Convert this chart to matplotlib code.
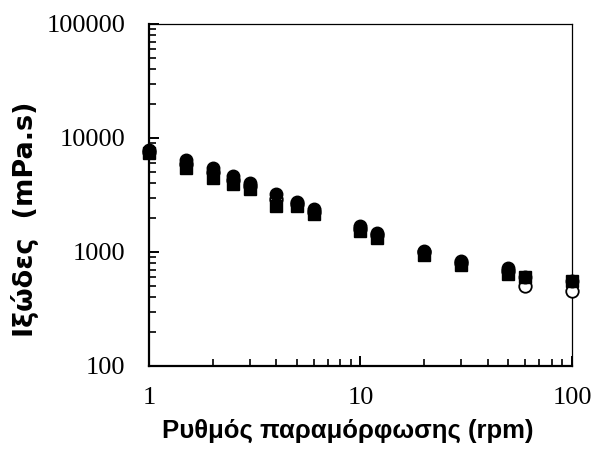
import numpy as np
import matplotlib.pyplot as plt

# shear rate (rpm) and viscosity (mPa.s)
rpm = [1, 1.5, 2, 2.5, 3, 4, 5, 6, 10, 12, 20, 30, 50, 60, 100]
visc_filled_circle = [7800, 6400, 5450, 4650, 4050, 3250, 2750, 2400, 1700, 1460, 1030, 830, 720, 600, 560]
visc_square = [7400, 5400, 4500, 3950, 3550, 2550, 2550, 2150, 1520, 1320, 950, 775, 640, 600, 560]
visc_open_circle = [7600, 5900, 5000, 4300, 3800, 2900, 2650, 2250, 1600, 1400, 990, 800, 680, 505, 455]

fig = plt.figure(figsize=(5.94, 4.5), dpi=100)
ax = fig.add_axes([0.2508, 0.1867, 0.7122, 0.76])

ax.plot(rpm, visc_open_circle, 'o', mfc='white', mec='black', mew=1.3, ms=9, clip_on=False, zorder=3)
ax.plot(rpm, visc_square, 's', color='black', ms=8.5, clip_on=False, zorder=4)
ax.plot(rpm, visc_filled_circle, 'o', color='black', ms=9, clip_on=False, zorder=5)

ax.set_xscale('log')
ax.set_yscale('log')
ax.set_xlim(1, 100)
ax.set_ylim(100, 100000)
ax.set_xticks([1, 10, 100])
ax.set_xticklabels(['1', '10', '100'])
ax.set_yticks([100, 1000, 10000, 100000])
ax.set_yticklabels(['100', '1000', '10000', '100000'])

for s in ['left', 'bottom']:
    ax.spines[s].set_linewidth(1.6)
for s in ['top', 'right']:
    ax.spines[s].set_linewidth(0.9)

ax.tick_params(which='major', direction='in', length=7, width=1.4, top=False, right=False,
               labelsize=19)
ax.tick_params(which='minor', direction='in', length=5, width=1.2, top=False, right=False)
ax.tick_params(axis='y', which='major', pad=17)
ax.tick_params(axis='x', which='major', pad=15)
for lab in ax.get_xticklabels() + ax.get_yticklabels():
    lab.set_fontfamily('Liberation Serif')

ax.set_xlabel('Ρυθμός παραμόρφωσης (rpm)', fontsize=18.5, fontweight='bold',
              fontfamily='Liberation Sans')
ax.xaxis.set_label_coords(0.469, -0.155)
ax.set_ylabel('Ιξώδες  (mPa.s)', fontsize=19.5, fontweight='bold',
              fontfamily='DejaVu Sans')
ax.yaxis.set_label_coords(-0.26, 0.43)

fig.savefig('out.png', dpi=100)
